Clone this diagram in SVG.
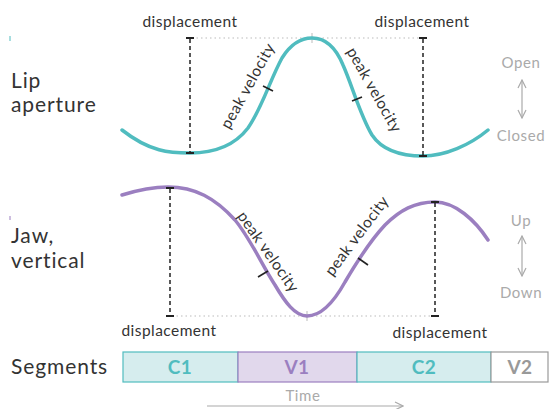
<svg xmlns="http://www.w3.org/2000/svg" width="549" height="409" viewBox="0 0 549 409">
<defs>
<style>
text{font-family:Lato,"Noto Sans","Liberation Sans",sans-serif;}
.lbl{font-size:21px;fill:#333;letter-spacing:0.9px;}
.small{font-size:15.5px;fill:#333;letter-spacing:0.45px;}
.gray{font-size:15px;fill:#aaa;letter-spacing:0.6px;}
.teal{fill:none;stroke:#50bcbf;stroke-width:3.5;stroke-linecap:round;}
.purple{fill:none;stroke:#9b7fc0;stroke-width:3.5;stroke-linecap:round;}
.dash{stroke:#222;stroke-width:1.5;stroke-dasharray:4,3;fill:none;}
.cap{stroke:#222;stroke-width:2;}
.dot{stroke:#bbb;stroke-width:1;stroke-dasharray:1.5,3;fill:none;}
.tick{stroke:#222;stroke-width:1.6;}
.gtick{stroke:#bbb;stroke-width:1;}
.arr{stroke:#aaa;stroke-width:1.2;fill:none;}
.seg{font-size:19px;font-weight:bold;text-anchor:middle;letter-spacing:0.5px;}
</style>
<marker id="ah" viewBox="0 0 10 10" refX="9" refY="5" markerWidth="10" markerHeight="10" markerUnits="userSpaceOnUse" orient="auto-start-reverse">
<path d="M1,1 L9,5 L1,9" fill="none" stroke="#aaa" stroke-width="1.2"/>
</marker>
</defs>

<g id="labels">
<text class="lbl" x="11" y="88">Lip</text>
<text class="lbl" x="11" y="112">aperture</text>
<text class="lbl" x="11" y="243">Jaw,</text>
<text class="lbl" x="11" y="268">vertical</text>
<line x1="10" y1="36" x2="10" y2="41" stroke="#50bcbf" stroke-width="1"/>
<line x1="10" y1="216" x2="10" y2="220" stroke="#9b7fc0" stroke-width="1"/>
</g>

<g id="lip-curve">
<line class="dot" x1="192" y1="38" x2="421" y2="38"/>
<line class="gtick" x1="312" y1="33" x2="312" y2="43"/>
<path class="teal" d="M122,130 C150,152 170,153 190,153 C215,153 235,145 248,128 C262,108 270,80 282,58 C292,42 302,38 312,38 C326,38 336,48 343,65 C352,85 360,115 372,135 C382,150 400,156 423,156 C445,156 470,145 488,130"/>
<line class="tick" x1="263" y1="86" x2="273" y2="91"/>
<line class="tick" x1="352" y1="101" x2="362" y2="97"/>
<line class="dash" x1="190" y1="39" x2="190" y2="152"/>
<line class="cap" x1="186" y1="38" x2="194" y2="38"/>
<line class="cap" x1="186" y1="153" x2="194" y2="153"/>
<line class="dash" x1="423" y1="39" x2="423" y2="155"/>
<line class="cap" x1="419" y1="38" x2="427" y2="38"/>
<line class="cap" x1="419" y1="156" x2="427" y2="156"/>
<text class="small" x="190" y="27" text-anchor="middle">displacement</text>
<text class="small" x="422" y="27" text-anchor="middle">displacement</text>
<text class="small" text-anchor="middle" transform="translate(248,86) rotate(-61)" y="5">peak velocity</text>
<text class="small" text-anchor="middle" transform="translate(374,90) rotate(60.5)" y="5">peak velocity</text>
</g>

<g id="jaw-curve">
<line class="dot" x1="172" y1="316" x2="433" y2="316"/>
<line class="gtick" x1="307" y1="311" x2="307" y2="321"/>
<path class="purple" d="M122,195 C138,190 152,187 168,187 C195,187 215,198 235,220 C250,238 262,265 275,285 C285,302 295,316 307,316 C322,316 335,300 345,282 C355,265 368,243 385,225 C400,210 415,202 435,202 C455,202 475,220 488,240"/>
<line class="tick" x1="258" y1="277" x2="268" y2="271"/>
<line class="tick" x1="358" y1="258" x2="368" y2="265"/>
<line class="dash" x1="170" y1="189" x2="170" y2="315"/>
<line class="cap" x1="166" y1="188" x2="174" y2="188"/>
<line class="cap" x1="166" y1="316" x2="174" y2="316"/>
<line class="dash" x1="435" y1="203" x2="435" y2="315"/>
<line class="cap" x1="431" y1="202" x2="439" y2="202"/>
<line class="cap" x1="431" y1="316" x2="439" y2="316"/>
<text class="small" x="169" y="336" text-anchor="middle">displacement</text>
<text class="small" x="440" y="338" text-anchor="middle">displacement</text>
<text class="small" text-anchor="middle" transform="translate(268,252) rotate(55)" y="5">peak velocity</text>
<text class="small" text-anchor="middle" transform="translate(357,236) rotate(-53)" y="5">peak velocity</text>
</g>

<g id="open-closed">
<text class="gray" x="521" y="68" text-anchor="middle">Open</text>
<text class="gray" x="521" y="141" text-anchor="middle">Closed</text>
<line class="arr" x1="522" y1="80" x2="522" y2="118" marker-start="url(#ah)" marker-end="url(#ah)"/>
</g>

<g id="up-down">
<text class="gray" x="521" y="226" text-anchor="middle">Up</text>
<text class="gray" x="521" y="298" text-anchor="middle">Down</text>
<line class="arr" x1="522" y1="236" x2="522" y2="276" marker-start="url(#ah)" marker-end="url(#ah)"/>
</g>

<g id="segments">
<text class="lbl" x="11" y="374">Segments</text>
<g id="seg-c1">
<rect x="123" y="352" width="115" height="30" fill="#d6edee" stroke="#50bcbf" stroke-width="1.2"/>
<text class="seg" x="180" y="374" fill="#50bcbf">C1</text>
</g>
<g id="seg-v1">
<rect x="238" y="352" width="119" height="30" fill="#e1d8ec" stroke="#9b7fc0" stroke-width="1.2"/>
<text class="seg" x="297" y="374" fill="#9b7fc0">V1</text>
</g>
<g id="seg-c2">
<rect x="357" y="352" width="134" height="30" fill="#d6edee" stroke="#50bcbf" stroke-width="1.2"/>
<text class="seg" x="424" y="374" fill="#50bcbf">C2</text>
</g>
<g id="seg-v2">
<rect x="491" y="352" width="57" height="30" fill="#fff" stroke="#999" stroke-width="1.2"/>
<text class="seg" x="520" y="374" fill="#999">V2</text>
</g>
</g>

<g id="time">
<text class="gray" x="303" y="401" text-anchor="middle">Time</text>
<line class="arr" x1="207" y1="406" x2="403" y2="406" marker-end="url(#ah)"/>
</g>
</svg>
